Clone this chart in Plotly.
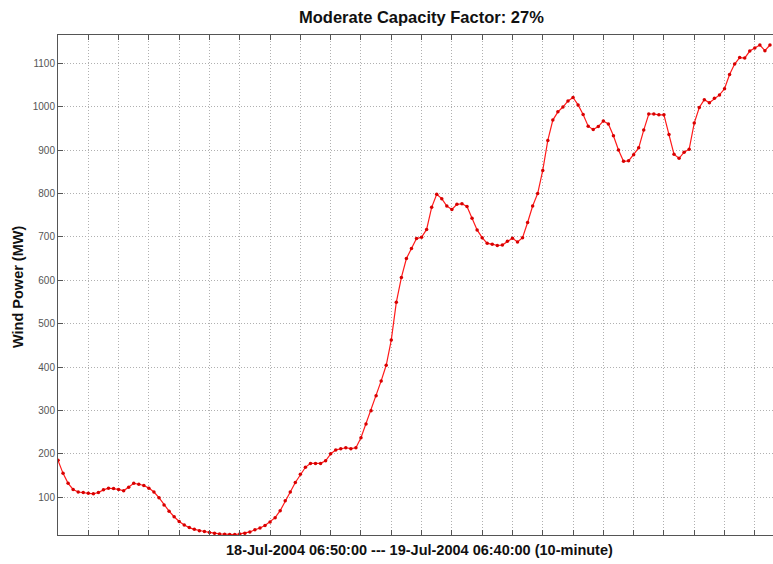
import plotly.graph_objects as go

# 10-minute samples, 18-Jul-2004 06:50 onward
sample_index = list(range(142))
wind_power_mw = [
    185, 155, 132, 118, 112, 111, 109, 108, 111, 117,
    121, 120, 118, 115, 123, 132, 130, 127, 121, 112,
    99, 82, 68, 55, 44, 36, 30, 26, 23, 21,
    19, 17, 15.5, 15, 14, 14, 15.5, 17, 20, 25,
    29, 35, 43, 53, 69, 92, 112, 134, 153, 169,
    178, 178, 178, 184, 200, 209, 212, 214, 212, 214,
    237, 269, 299, 334, 368, 404, 462, 549, 606, 650,
    673, 696, 699, 717, 768, 798, 788, 771, 763, 775,
    776, 770, 743, 716, 698, 685, 683, 680, 681, 690,
    697, 688, 698, 733, 771, 800, 853, 922, 969, 988,
    999, 1013, 1021, 1004, 982, 955, 947, 954, 967, 960,
    933, 900, 874, 875, 889, 905, 946, 983, 983, 981,
    981, 936, 890, 881, 895, 902, 962, 998, 1016, 1009,
    1019, 1027, 1041, 1074, 1098, 1113, 1112, 1128, 1135, 1142,
    1129, 1142,
]
y_ticks = [100, 200, 300, 400, 500, 600, 700, 800, 900, 1000, 1100]
x_ticks = list(range(0, 145, 6))

title_text = "Moderate Capacity Factor: 27%"
x_label = "18-Jul-2004 06:50:00 --- 19-Jul-2004 06:40:00 (10-minute)"
y_label = "Wind Power (MW)"

fig = go.Figure()
fig.add_trace(go.Scatter(
    x=sample_index,
    y=wind_power_mw,
    mode="lines+markers",
    line=dict(color="#ff1a1a", width=1.2),
    marker=dict(color="#d80000", size=3.5),
    cliponaxis=True,
    showlegend=False,
))

axis_line = "#555555"
grid_col = "#b0b0b0"

fig.update_layout(
    width=773,
    height=564,
    margin=dict(l=58, r=0, t=35, b=29),
    paper_bgcolor="white",
    plot_bgcolor="white",
    font=dict(family="Liberation Sans, Arial, sans-serif"),
    annotations=[
        dict(text="<b>" + title_text + "</b>", xref="paper", yref="paper",
             x=0.509, y=1, yshift=18, showarrow=False,
             font=dict(size=16.5, color="#111111"), xanchor="center", yanchor="middle"),
        dict(text="<b>" + x_label + "</b>", xref="paper", yref="paper",
             x=0.505, y=0, yshift=-15, showarrow=False,
             font=dict(size=14.5, color="#111111"), xanchor="center", yanchor="middle"),
        dict(text="<b>" + y_label + "</b>", xref="paper", yref="paper",
             x=0, xshift=-40, y=0.5, yshift=-2, showarrow=False, textangle=-90,
             font=dict(size=14.5, color="#111111"), xanchor="center", yanchor="middle"),
    ],
)

fig.update_xaxes(
    range=[0, 141.6],
    tickmode="array",
    tickvals=x_ticks,
    showticklabels=False,
    ticks="inside",
    ticklen=5,
    tickcolor=axis_line,
    showline=True,
    linecolor=axis_line,
    linewidth=1,
    mirror="ticks",
    showgrid=True,
    gridcolor=grid_col,
    griddash="1px,2px",
    gridwidth=1,
    zeroline=False,
)

fig.update_yaxes(
    range=[13, 1165],
    tickmode="array",
    tickvals=y_ticks,
    ticks="inside",
    ticklen=5,
    tickcolor=axis_line,
    tickfont=dict(size=10, color="#555555", family="Liberation Sans Narrow, Arial Narrow, Arial, sans-serif"),
    showline=True,
    linecolor=axis_line,
    linewidth=1,
    mirror=False,
    showgrid=True,
    gridcolor=grid_col,
    griddash="1px,2px",
    gridwidth=1,
    zeroline=False,
)

fig.write_html("out.html")
